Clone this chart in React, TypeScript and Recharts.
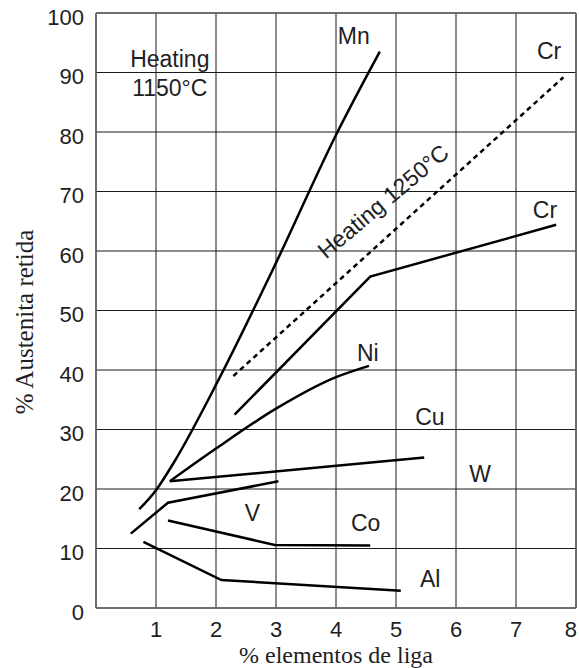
import React from 'react';
import {
  LineChart,
  Line,
  XAxis,
  YAxis,
  CartesianGrid,
  ReferenceLine,
  ReferenceDot,
} from 'recharts';

// tick values
const X_TICKS = [1, 2, 3, 4, 5, 6, 7, 8];
const Y_TICKS = [0, 10, 20, 30, 40, 50, 60, 70, 80, 90, 100];

// curves (% alloying element, % retained austenite)
const mnData = [
  { x: 0.72, y: 16.6 },
  { x: 1.0, y: 19.8 },
  { x: 1.3, y: 24.5 },
  { x: 2.05, y: 38.5 },
  { x: 3.0, y: 58 },
  { x: 4.0, y: 79.5 },
  { x: 4.73, y: 93.5 },
];
const cr1250Data = [
  { x: 2.29, y: 39 },
  { x: 7.79, y: 89.2 },
];
const crData = [
  { x: 2.31, y: 32.5 },
  { x: 4.57, y: 55.7 },
  { x: 7.67, y: 64.4 },
];
const niData = [
  { x: 1.23, y: 21.3 },
  { x: 2.0, y: 26.8 },
  { x: 3.0, y: 33.5 },
  { x: 4.0, y: 38.8 },
  { x: 4.55, y: 40.7 },
];
const cuData = [
  { x: 1.23, y: 21.3 },
  { x: 5.47, y: 25.3 },
];
const vData = [
  { x: 0.58, y: 12.5 },
  { x: 1.2, y: 17.7 },
  { x: 3.04, y: 21.3 },
];
const coData = [
  { x: 1.2, y: 14.7 },
  { x: 2.98, y: 10.6 },
  { x: 4.57, y: 10.5 },
];
const alData = [
  { x: 0.79, y: 11.1 },
  { x: 2.09, y: 4.7 },
  { x: 5.08, y: 2.9 },
];

// text annotations placed in data units
const annotations = [
  { x: 1.23, y: 90.97, text: 'Heating', anchor: 'middle' },
  { x: 1.23, y: 86.1, text: '1150°C', anchor: 'middle' },
  { x: 4.03, y: 94.8, text: 'Mn', anchor: 'start' },
  { x: 7.35, y: 92.3, text: 'Cr', anchor: 'start' },
  { x: 7.28, y: 65.5, text: 'Cr', anchor: 'start' },
  { x: 4.35, y: 41.5, text: 'Ni', anchor: 'start' },
  { x: 5.32, y: 30.8, text: 'Cu', anchor: 'start' },
  { x: 6.22, y: 21.2, text: 'W', anchor: 'start' },
  { x: 2.48, y: 14.6, text: 'V', anchor: 'start' },
  { x: 4.25, y: 12.9, text: 'Co', anchor: 'start' },
  { x: 5.4, y: 3.5, text: 'Al', anchor: 'start' },
];

const SANS = '"Liberation Sans", Arial, sans-serif';
const SERIF = '"Liberation Serif", "Times New Roman", serif';
const INK = '#1e1e24';

const YTick = ({ x, y, payload }: any) => (
  <text x={x} y={y + 11.5} textAnchor="end" fontFamily={SANS} fontSize={22} fill={INK}>
    {payload.value}
  </text>
);

const XTick = ({ x, y, payload }: any) => {
  // last label sits on the page edge, nudge it in
  const last = payload.value === X_TICKS[X_TICKS.length - 1];
  return (
    <text
      x={last ? x + 2 : x}
      y={y + 29}
      textAnchor={last ? 'end' : 'middle'}
      fontFamily={SANS}
      fontSize={22}
      fill={INK}
    >
      {payload.value}
    </text>
  );
};

const textShape = (text: string, anchor: string, rotate?: number) => (props: any) => {
  const { cx, cy } = props;
  return (
    <text
      x={cx}
      y={cy}
      textAnchor={anchor as any}
      fontFamily={SANS}
      fontSize={23}
      fill={INK}
      transform={rotate ? `rotate(${rotate} ${cx} ${cy})` : undefined}
    >
      {text}
    </text>
  );
};

const lineProps = {
  stroke: '#000',
  strokeWidth: 2.5,
  dot: false,
  activeDot: false,
  isAnimationActive: false,
  legendType: 'none' as const,
};

export default function App() {
  return (
    <div style={{ position: 'absolute', left: 0, top: 0, background: '#fff' }}>
      <LineChart width={579} height={668} margin={{ top: 13, right: 3, bottom: 0, left: 0 }}>
        <CartesianGrid stroke="#1a1a1a" strokeWidth={1} />
        <XAxis
          type="number"
          dataKey="x"
          domain={[0, 8]}
          ticks={X_TICKS}
          allowDataOverflow
          height={60}
          tickSize={0}
          tickMargin={0}
          tick={<XTick />}
          stroke="#666"
          strokeWidth={1.5}
          label={{
            content: () => (
              <text x={336} y={663} textAnchor="middle" fontFamily={SERIF} fontSize={24} fill={INK}>
                % elementos de liga
              </text>
            ),
          }}
        />
        <YAxis
          type="number"
          dataKey="y"
          domain={[0, 100]}
          ticks={Y_TICKS}
          allowDataOverflow
          width={96}
          tickSize={0}
          tickMargin={12}
          tick={<YTick />}
          stroke="#666"
          strokeWidth={1.5}
          label={{
            content: () => (
              <text
                x={33}
                y={322}
                textAnchor="middle"
                fontFamily={SERIF}
                fontSize={25}
                fill={INK}
                transform="rotate(-90 33 322)"
              >
                % Austenita retida
              </text>
            ),
          }}
        />
        <ReferenceLine y={100} stroke="#666" strokeWidth={1.5} />
        <ReferenceLine x={8} stroke="#666" strokeWidth={1.5} />

        <Line data={mnData} dataKey="y" type="monotone" {...lineProps} />
        <Line data={cr1250Data} dataKey="y" type="linear" {...lineProps} strokeDasharray="5 4" />
        <Line data={crData} dataKey="y" type="linear" {...lineProps} />
        <Line data={niData} dataKey="y" type="monotone" {...lineProps} />
        <Line data={cuData} dataKey="y" type="linear" {...lineProps} />
        <Line data={vData} dataKey="y" type="linear" {...lineProps} />
        <Line data={coData} dataKey="y" type="linear" {...lineProps} />
        <Line data={alData} dataKey="y" type="linear" {...lineProps} />

        {annotations.map((a, i) => (
          <ReferenceDot key={i} x={a.x} y={a.y} r={0} shape={textShape(a.text, a.anchor)} />
        ))}
        <ReferenceDot x={4.87} y={67.3} r={0} shape={textShape('Heating 1250°C', 'middle', -40)} />
      </LineChart>
    </div>
  );
}
